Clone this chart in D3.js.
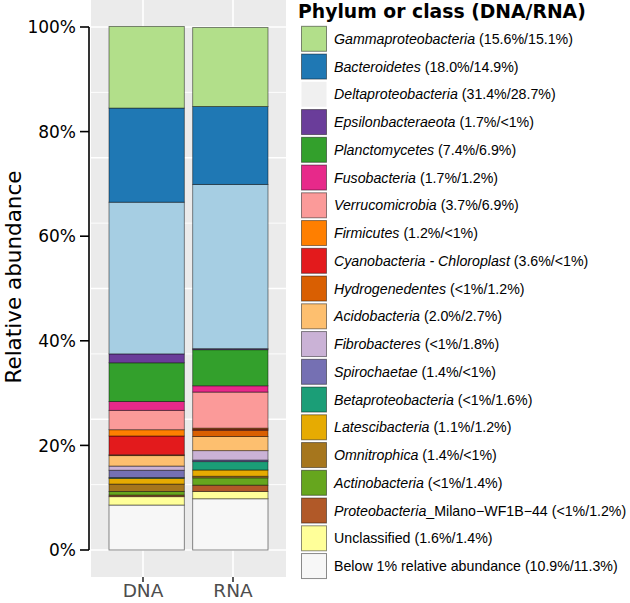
<!DOCTYPE html>
<html><head><meta charset="utf-8">
<script src="https://cdn.jsdelivr.net/npm/d3@7"></script>
<style>body{margin:0;background:#fff}svg{display:block}</style>
</head><body>
<svg id="c" width="630" height="603"></svg>
<script>
const categories = ["DNA", "RNA"];
const taxa = ["Gammaproteobacteria","Bacteroidetes","Deltaproteobacteria","Epsilonbacteraeota","Planctomycetes","Fusobacteria","Verrucomicrobia","Firmicutes","Cyanobacteria - Chloroplast","Hydrogenedentes","Acidobacteria","Fibrobacteres","Spirochaetae","Betaproteobacteria","Latescibacteria","Omnitrophica","Actinobacteria","Proteobacteria","Unclassified","Below 1% relative abundance"];
const taxaSuffix = ["","","","","","","","","","","","","","","","","","_Milano\u2212WF1B\u221244","",""];
const italicName = [true,true,true,true,true,true,true,true,true,true,true,true,true,true,true,true,true,true,false,false];
const legendPct = ["(15.6%/15.1%)","(18.0%/14.9%)","(31.4%/28.7%)","(1.7%/<1%)","(7.4%/6.9%)","(1.7%/1.2%)","(3.7%/6.9%)","(1.2%/<1%)","(3.6%/<1%)","(<1%/1.2%)","(2.0%/2.7%)","(<1%/1.8%)","(1.4%/<1%)","(<1%/1.6%)","(1.1%/1.2%)","(1.4%/<1%)","(<1%/1.4%)","(<1%/1.2%)","(1.6%/1.4%)","(10.9%/11.3%)"];
const dnaValues = [15.6,18.0,29.0,1.7,7.4,1.7,3.7,1.2,3.6,0.15,2.0,0.8,1.4,0.15,1.1,1.4,0.7,0.3,1.6,8.6];
const rnaValues = [15.1,14.9,31.4,0.2,6.9,1.2,6.9,0.2,0.2,1.2,2.7,1.8,0.3,1.6,1.2,0.3,1.4,1.2,1.4,9.8];
const yTicks = [0,20,40,60,80,100];
const gridBreaks = [0,12.5,25,37.5,50,62.5,75,87.5,100];
const palette = ["#B2DF8A","#1F78B4","#A6CEE3","#6A3D9A","#33A02C","#E7298A","#FB9A99","#FF7F00","#E31A1C","#D95F02","#FDBF6F","#CAB2D6","#7570B3","#1B9E77","#E6AB02","#A6761D","#66A61E","#B15928","#FFFF99","#F7F7F7"];

const svg = d3.select("#c");
const y = d3.scaleLinear().domain([0,100]).range([550,27]);
const xBar = d3.scaleBand().domain(categories).range([109,268]).paddingInner(0.1);
const xGrid = d3.scalePoint().domain(categories).range([143,233]);
const color = d3.scaleOrdinal().domain(taxa).range(palette);

// panel
svg.append("rect").attr("x",91).attr("y",0).attr("width",195).attr("height",577).attr("fill","#EBEBEB");
svg.append("g").selectAll("line").data(gridBreaks).join("line")
  .attr("x1",91).attr("x2",286).attr("y1",d=>y(d)).attr("y2",d=>y(d))
  .attr("stroke","#fff").attr("stroke-width",(d,i)=> i%2===0?1.6:0.9);
svg.append("g").selectAll("line").data(categories).join("line")
  .attr("x1",d=>xGrid(d)).attr("x2",d=>xGrid(d)).attr("y1",0).attr("y2",577)
  .attr("stroke","#fff").attr("stroke-width",1.6);

// stacked bars
const rows = categories.map((c,ci)=>{
  const o = {cat:c};
  taxa.forEach((t,i)=>{ o[t] = (ci===0?dnaValues:rnaValues)[i]; });
  return o;
});
const stack = d3.stack().keys(taxa.slice().reverse());
const series = stack(rows);
const g = svg.append("g");
series.forEach(s=>{
  g.selectAll(null).data(s).join("rect")
    .attr("x",d=>xBar(d.data.cat)).attr("width",xBar.bandwidth())
    .attr("y",d=>y(d[1])).attr("height",d=>y(d[0])-y(d[1]))
    .attr("fill",color(s.key))
    .attr("stroke","rgba(0,0,0,0.5)").attr("stroke-width",0.9);
});

// y axis
const ya = svg.append("g");
ya.append("line").attr("x1",89).attr("x2",89).attr("y1",y(0)).attr("y2",y(100)).attr("stroke","#000").attr("stroke-width",1.6);
ya.selectAll(".t").data(yTicks).join("line").attr("class","t")
  .attr("x1",80).attr("x2",89).attr("y1",d=>y(d)).attr("y2",d=>y(d)).attr("stroke","#000").attr("stroke-width",1.6);
ya.selectAll("text").data(yTicks).join("text")
  .attr("x",76).attr("y",d=>y(d)).attr("dy","0.36em").attr("text-anchor","end")
  .attr("font-family","DejaVu Sans").attr("font-size",17).attr("fill","#000")
  .text(d=>d+"%");
svg.append("text").attr("transform","translate(21,277) rotate(-90)").attr("text-anchor","middle")
  .attr("font-family","DejaVu Sans").attr("font-size",21.5).attr("fill","#000").text("Relative abundance");

// x axis
const xa = svg.append("g");
xa.selectAll("line").data(categories).join("line")
  .attr("x1",d=>xGrid(d)).attr("x2",d=>xGrid(d)).attr("y1",577).attr("y2",582)
  .attr("stroke","#333").attr("stroke-width",1.6);
xa.selectAll("text").data(categories).join("text")
  .attr("x",d=>xGrid(d)).attr("y",597).attr("text-anchor","middle")
  .attr("font-family","DejaVu Sans").attr("font-size",18.5).attr("fill","#4D4D4D").text(d=>d);

// legend
const lg = svg.append("g");
lg.append("text").attr("x",298).attr("y",18).attr("font-family","DejaVu Sans").attr("font-weight","bold")
  .attr("font-size",18.8).attr("fill","#000").text("Phylum or class (DNA/RNA)");
const pitch = 27.75;
taxa.forEach((t,i)=>{
  const cy = 38.8 + i*pitch;
  lg.append("rect").attr("x",301.5).attr("y",cy-12.5).attr("width",25).attr("height",25)
    .attr("fill", t==="Deltaproteobacteria" ? "#F0F0F0" : color(t))
    .attr("stroke", t==="Deltaproteobacteria" ? "none" : "rgba(0,0,0,0.45)").attr("stroke-width",1);
  const tx = lg.append("text").attr("x",334).attr("y",cy+5).attr("font-family","Liberation Sans").attr("font-size",14.2).attr("fill","#000");
  tx.append("tspan").attr("font-style", italicName[i]?"italic":"normal").text(t);
  tx.append("tspan").text(taxaSuffix[i] + " " + legendPct[i]);
});
</script>
</body></html>
